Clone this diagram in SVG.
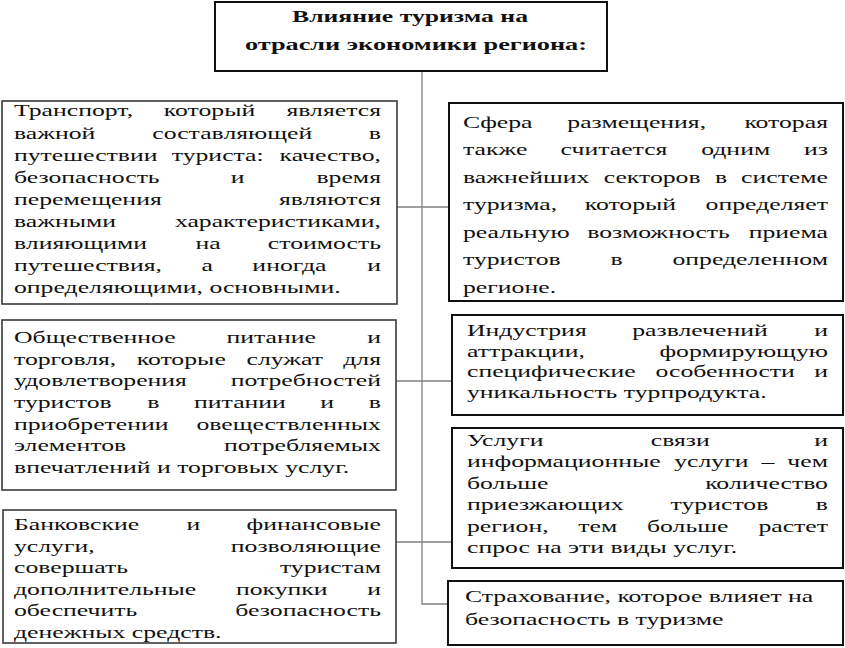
<svg xmlns="http://www.w3.org/2000/svg" width="845" height="648" viewBox="0 0 845 648">
<style>
.bg{fill:#ffffff}
.box{fill:#ffffff;stroke:#3a3a3a;stroke-width:1.6}
.boxr{fill:#ffffff;stroke:#111111;stroke-width:2}
.conn{fill:none;stroke:#808080;stroke-width:1.3}
text{font-family:"Liberation Serif","Times New Roman",serif;fill:#111111}
.body text{font-size:17px}
.e{text-anchor:end}
.title{font-size:16px;font-weight:bold}
</style>
<rect class="bg" x="0" y="0" width="845" height="648"/>
<g id="connectors">
<path class="conn" d="M422,71 V604 H448"/>
<path class="conn" d="M397,207 H449"/>
<path class="conn" d="M396,381 H452"/>
<path class="conn" d="M396,542 H452"/>
</g>
<g id="title">
<rect class="boxr" x="215" y="2" width="392" height="69"/>
<text class="title" x="292" y="21.5" textLength="236" lengthAdjust="spacingAndGlyphs">Влияние туризма на</text>
<text class="title" x="245" y="49.5" textLength="342" lengthAdjust="spacingAndGlyphs">отрасли экономики региона:</text>
</g>
<g id="transport">
<rect class="box" x="2" y="101" width="395" height="203"/>
<g class="body" transform="scale(1.5141 1)">
<text x="9.25" y="116.5">Транспорт,</text><text x="108.23" y="116.5">который</text><text class="e" x="251.63" y="116.5">является</text>
<text x="9.25" y="138.6">важной</text><text x="100.58" y="138.6">составляющей</text><text class="e" x="251.63" y="138.6">в</text>
<text x="9.25" y="160.7">путешествии</text><text x="113.43" y="160.7">туриста:</text><text class="e" x="251.63" y="160.7">качество,</text>
<text x="9.25" y="182.8">безопасность</text><text x="152.34" y="182.8">и</text><text class="e" x="251.63" y="182.8">время</text>
<text x="9.25" y="204.9">перемещения</text><text class="e" x="251.63" y="204.9">являются</text>
<text x="9.25" y="227">важными</text><text class="e" x="251.63" y="227">характеристиками,</text>
<text x="9.25" y="249.1">влияющими</text><text x="129.1" y="249.1">на</text><text class="e" x="251.63" y="249.1">стоимость</text>
<text x="9.25" y="271.2">путешествия,</text><text x="133.07" y="271.2">а</text><text x="166.69" y="271.2">иногда</text><text class="e" x="251.63" y="271.2">и</text>
<text x="9.25" y="293.3">определяющими, основными.</text>
</g>
</g>
<g id="accommodation">
<rect class="boxr" x="449" y="103" width="394" height="198"/>
<g class="body" transform="scale(1.5141 1)">
<text x="305.79" y="128">Сфера</text><text x="374.71" y="128">размещения,</text><text class="e" x="546.85" y="128">которая</text>
<text x="305.79" y="155.5">также</text><text x="370.28" y="155.5">считается</text><text x="463.1" y="155.5">одним</text><text class="e" x="546.85" y="155.5">из</text>
<text x="305.79" y="183">важнейших</text><text x="398.71" y="183">секторов</text><text x="472.16" y="183">в</text><text class="e" x="546.85" y="183">системе</text>
<text x="305.79" y="210.5">туризма,</text><text x="386.18" y="210.5">который</text><text class="e" x="546.85" y="210.5">определяет</text>
<text x="305.79" y="238">реальную</text><text x="387.86" y="238">возможность</text><text class="e" x="546.85" y="238">приема</text>
<text x="305.79" y="265.5">туристов</text><text x="403.18" y="265.5">в</text><text class="e" x="546.85" y="265.5">определенном</text>
<text x="305.79" y="293">регионе.</text>
</g>
</g>
<g id="catering">
<rect class="box" x="2" y="320" width="394" height="170"/>
<g class="body" transform="scale(1.5141 1)">
<text x="9.25" y="343">Общественное</text><text x="149.56" y="343">питание</text><text class="e" x="251.63" y="343">и</text>
<text x="9.25" y="364.7">торговля,</text><text x="90.33" y="364.7">которые</text><text x="162.81" y="364.7">служат</text><text class="e" x="251.63" y="364.7">для</text>
<text x="9.25" y="386.4">удовлетворения</text><text class="e" x="251.63" y="386.4">потребностей</text>
<text x="9.25" y="408.1">туристов</text><text x="97.18" y="408.1">в</text><text x="128.17" y="408.1">питании</text><text x="211.57" y="408.1">и</text><text class="e" x="251.63" y="408.1">в</text>
<text x="9.25" y="429.8">приобретении</text><text class="e" x="251.63" y="429.8">овеществленных</text>
<text x="9.25" y="451.5">элементов</text><text class="e" x="251.63" y="451.5">потребляемых</text>
<text x="9.25" y="473.2">впечатлений и торговых услуг.</text>
</g>
</g>
<g id="entertainment">
<rect class="boxr" x="452" y="315" width="391" height="100"/>
<g class="body" transform="scale(1.5141 1)">
<text x="308.43" y="336">Индустрия</text><text x="417.58" y="336">развлечений</text><text class="e" x="546.85" y="336">и</text>
<text x="308.43" y="356.7">аттракции,</text><text class="e" x="546.85" y="356.7">формирующую</text>
<text x="308.43" y="377.3">специфические</text><text x="432.92" y="377.3">особенности</text><text class="e" x="546.85" y="377.3">и</text>
<text x="308.43" y="398">уникальность турпродукта.</text>
</g>
</g>
<g id="communication">
<rect class="boxr" x="452" y="428" width="391" height="140"/>
<g class="body" transform="scale(1.5141 1)">
<text x="308.43" y="446">Услуги</text><text x="429.81" y="446">связи</text><text class="e" x="546.85" y="446">и</text>
<text x="308.43" y="467.5">информационные</text><text x="445.32" y="467.5">услуги</text><text x="502.98" y="467.5">–</text><text class="e" x="546.85" y="467.5">чем</text>
<text x="308.43" y="489">больше</text><text class="e" x="546.85" y="489">количество</text>
<text x="308.43" y="510.5">приезжающих</text><text x="442.92" y="510.5">туристов</text><text class="e" x="546.85" y="510.5">в</text>
<text x="308.43" y="532">регион,</text><text x="381.95" y="532">тем</text><text x="427.33" y="532">больше</text><text class="e" x="546.85" y="532">растет</text>
<text x="308.43" y="553.5">спрос на эти виды услуг.</text>
</g>
</g>
<g id="banking">
<rect class="box" x="3" y="510" width="393" height="133"/>
<g class="body" transform="scale(1.5141 1)">
<text x="9.25" y="530">Банковские</text><text x="123.12" y="530">и</text><text class="e" x="251.63" y="530">финансовые</text>
<text x="9.25" y="551.6">услуги,</text><text class="e" x="251.63" y="551.6">позволяющие</text>
<text x="9.25" y="573.2">совершать</text><text class="e" x="251.63" y="573.2">туристам</text>
<text x="9.25" y="594.8">дополнительные</text><text x="155.8" y="594.8">покупки</text><text class="e" x="251.63" y="594.8">и</text>
<text x="9.25" y="616.4">обеспечить</text><text class="e" x="251.63" y="616.4">безопасность</text>
<text x="9.25" y="638">денежных средств.</text>
</g>
</g>
<g id="insurance">
<rect class="boxr" x="448" y="581" width="395" height="64"/>
<g class="body" transform="scale(1.5141 1)">
<text x="307.11" y="602">Страхование, которое влияет на</text>
<text x="307.11" y="625">безопасность в туризме</text>
</g>
</g>
</svg>
